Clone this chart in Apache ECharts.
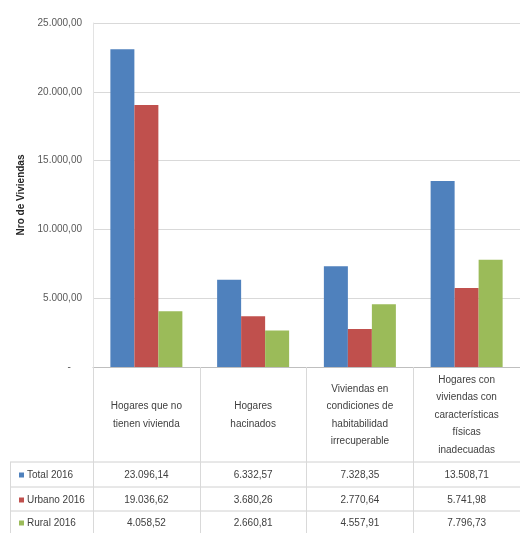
<!DOCTYPE html>
<html>
<head>
<meta charset="utf-8">
<script src="https://cdn.jsdelivr.net/npm/echarts@6/dist/echarts.min.js"></script>
<style>html,body{margin:0;padding:0;background:#fff}#c{width:520px;height:533px}</style>
</head>
<body>
<div id="c"></div>
<script>
const categories = [
  "Hogares que no\ntienen vivienda",
  "Hogares\nhacinados",
  "Viviendas en\ncondiciones de\nhabitabilidad\nirrecuperable",
  "Hogares con\nviviendas con\ncaracterísticas\nfísicas\ninadecuadas"
];
const seriesNames = ["Total 2016", "Urbano 2016", "Rural 2016"];
const total2016 = [23096.14, 6332.57, 7328.35, 13508.71];
const urbano2016 = [19036.62, 3680.26, 2770.64, 5741.98];
const rural2016 = [4058.52, 2660.81, 4557.91, 7796.73];
const yTicks = { min: 0, max: 25000, interval: 5000 };
const yTitle = "Nro de Viviendas";

const colors = ["#4F81BD", "#C0504D", "#9BBB59"];
const allSeries = [total2016, urbano2016, rural2016];
const FONT = "'Liberation Sans', Arial, sans-serif";

function fmt(v) {
  const parts = v.toFixed(2).split(".");
  parts[0] = parts[0].replace(/\B(?=(\d{3})+(?!\d))/g, ".");
  return parts[0] + "," + parts[1];
}

const rowCenters = [108, 133, 156]; // distance below axis line
const chart = echarts.init(document.getElementById("c"));

const xAxes = [{
  type: "category",
  data: categories,
  gridIndex: 0,
  position: "bottom",
  axisLine: { show: true, lineStyle: { color: "#BFBFBF", width: 1 } },
  axisTick: { show: true, interval: 0, length: 170, lineStyle: { color: "#D9D9D9" } },
  axisLabel: {
    interval: 0, margin: 48, verticalAlign: "middle", lineHeight: 17.5,
    fontFamily: FONT, fontSize: 10, color: "#404040", align: "center"
  },
  splitLine: { show: false }
}];
allSeries.forEach((arr, i) => {
  xAxes.push({
    type: "category",
    data: categories,
    gridIndex: 0,
    position: "bottom",
    axisLine: { show: false },
    axisTick: { show: false },
    axisLabel: {
      interval: 0, margin: rowCenters[i], verticalAlign: "middle",
      fontFamily: FONT, fontSize: 10, color: "#404040",
      formatter: (v, idx) => fmt(arr[idx])
    }
  });
});

const legends = seriesNames.map((n, i) => ({
  data: [n],
  left: 14,
  top: 367 + rowCenters[i] - 10,
  itemWidth: 5, itemHeight: 5, itemGap: 3,
  icon: "rect",
  selectedMode: false,
  textStyle: { fontFamily: FONT, fontSize: 10, color: "#404040", padding: [0, 0, 0, -2] }
}));

const hLines = [462, 487, 511].map(y => ({
  type: "line",
  shape: { x1: 10, y1: y, x2: 520, y2: y },
  style: { stroke: "#D0D0D0", lineWidth: 1 }
}));
hLines.push({
  type: "line",
  shape: { x1: 10.5, y1: 462, x2: 10.5, y2: 533 },
  style: { stroke: "#D9D9D9", lineWidth: 1 }
});

chart.setOption({
  animation: false,
  color: colors,
  grid: { left: 93, right: -5, top: 23, bottom: 166, containLabel: false },
  legend: legends,
  graphic: hLines,
  xAxis: xAxes,
  yAxis: {
    type: "value",
    min: yTicks.min, max: yTicks.max, interval: yTicks.interval,
    name: yTitle,
    nameLocation: "middle",
    nameRotate: 90,
    nameGap: 66,
    nameTextStyle: { fontFamily: FONT, fontSize: 10, fontWeight: "bold", color: "#262626" },
    axisLine: { show: true, lineStyle: { color: "#E3E3E3" } },
    axisTick: { show: false },
    axisLabel: {
      fontFamily: FONT, fontSize: 10, color: "#595959", margin: 11,
      formatter: v => v === 0 ? "-    " : fmt(v)
    },
    splitLine: { show: true, lineStyle: { color: "#D9D9D9", width: 1 } }
  },
  series: allSeries.map((arr, i) => ({
    name: seriesNames[i],
    type: "bar",
    data: arr,
    barWidth: 24,
    barGap: "0%",
    itemStyle: { color: colors[i] }
  }))
});
</script>
</body>
</html>
